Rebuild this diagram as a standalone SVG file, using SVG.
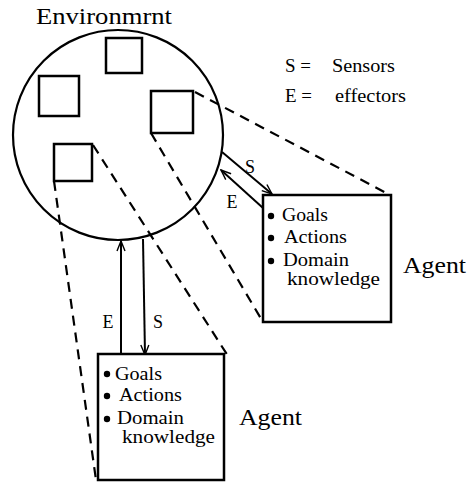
<svg xmlns="http://www.w3.org/2000/svg" width="471" height="482" viewBox="0 0 471 482">
<style>
text{font-family:"Liberation Serif","DejaVu Serif",serif;fill:#000}
.t{font-size:18px}
.big{font-size:23px}
.sq{fill:none;stroke:#000;stroke-width:2.5}
.box{fill:#fff;stroke:#000;stroke-width:2.5}
.dash{fill:none;stroke:#000;stroke-width:2.2;stroke-dasharray:10 7}
.arr{fill:none;stroke:#000;stroke-width:2;marker-end:url(#ah)}
</style>
<defs>
<marker id="ah" viewBox="0 0 12 10" refX="11" refY="5" markerWidth="12" markerHeight="10" markerUnits="userSpaceOnUse" orient="auto">
<path d="M1,1 L11,5 L1,9" fill="none" stroke="#000" stroke-width="1.4"/>
</marker>
</defs>
<g id="connectors">
<line class="dash" x1="195" y1="92" x2="390" y2="195"/>
<line class="dash" x1="151" y1="133" x2="263" y2="322"/>
<line class="dash" x1="93" y1="145" x2="228" y2="356"/>
<line class="dash" x1="54" y1="181" x2="96" y2="480"/>
<line class="arr" x1="222" y1="152" x2="272" y2="194"/>
<line class="arr" x1="263" y1="208" x2="221" y2="170"/>
<line class="arr" x1="121" y1="354" x2="121" y2="241"/>
<line class="arr" x1="143" y1="239" x2="145" y2="355"/>
<text class="t" x="250" y="173" text-anchor="middle">S</text>
<text class="t" x="232" y="208" text-anchor="middle">E</text>
<text class="t" x="108" y="328" text-anchor="middle">E</text>
<text class="t" x="158" y="328" text-anchor="middle">S</text>
</g>
<g id="environment">
<circle cx="118" cy="135" r="105" fill="none" stroke="#000" stroke-width="2.2"/>
<text class="big" x="36" y="24" textLength="136" lengthAdjust="spacingAndGlyphs">Environmrnt</text>
<rect class="sq" x="106" y="38" width="36" height="35"/>
<rect class="sq" x="39" y="76" width="40" height="40"/>
<rect class="sq" x="151" y="91" width="42" height="42"/>
<rect class="sq" x="54" y="144" width="38" height="37"/>
</g>
<g id="legend">
<text class="t" x="285" y="72" textLength="26" lengthAdjust="spacingAndGlyphs">S =</text>
<text class="t" x="332" y="72" textLength="63" lengthAdjust="spacingAndGlyphs">Sensors</text>
<text class="t" x="285" y="102" textLength="27" lengthAdjust="spacingAndGlyphs">E =</text>
<text class="t" x="335" y="102" textLength="71" lengthAdjust="spacingAndGlyphs">effectors</text>
</g>
<g id="agent1">
<rect class="box" x="263" y="195" width="128" height="127"/>
<circle cx="271" cy="216" r="3.2"/>
<circle cx="271" cy="238" r="3.2"/>
<circle cx="271" cy="261" r="3.2"/>
<text class="t" x="282" y="221" textLength="46" lengthAdjust="spacingAndGlyphs">Goals</text>
<text class="t" x="284" y="243" textLength="63" lengthAdjust="spacingAndGlyphs">Actions</text>
<text class="t" x="283" y="266" textLength="66" lengthAdjust="spacingAndGlyphs">Domain</text>
<text class="t" x="287" y="285" textLength="93" lengthAdjust="spacingAndGlyphs">knowledge</text>
<text class="big" x="403" y="273" textLength="63" lengthAdjust="spacingAndGlyphs">Agent</text>
</g>
<g id="agent2">
<rect class="box" x="98" y="354" width="126" height="126"/>
<circle cx="107" cy="374" r="3.2"/>
<circle cx="107" cy="396" r="3.2"/>
<circle cx="107" cy="419" r="3.2"/>
<text class="t" x="115" y="380" textLength="47" lengthAdjust="spacingAndGlyphs">Goals</text>
<text class="t" x="119" y="401" textLength="63" lengthAdjust="spacingAndGlyphs">Actions</text>
<text class="t" x="117" y="424" textLength="67" lengthAdjust="spacingAndGlyphs">Domain</text>
<text class="t" x="122" y="443" textLength="93" lengthAdjust="spacingAndGlyphs">knowledge</text>
<text class="big" x="239" y="425" textLength="63" lengthAdjust="spacingAndGlyphs">Agent</text>
</g>
</svg>
